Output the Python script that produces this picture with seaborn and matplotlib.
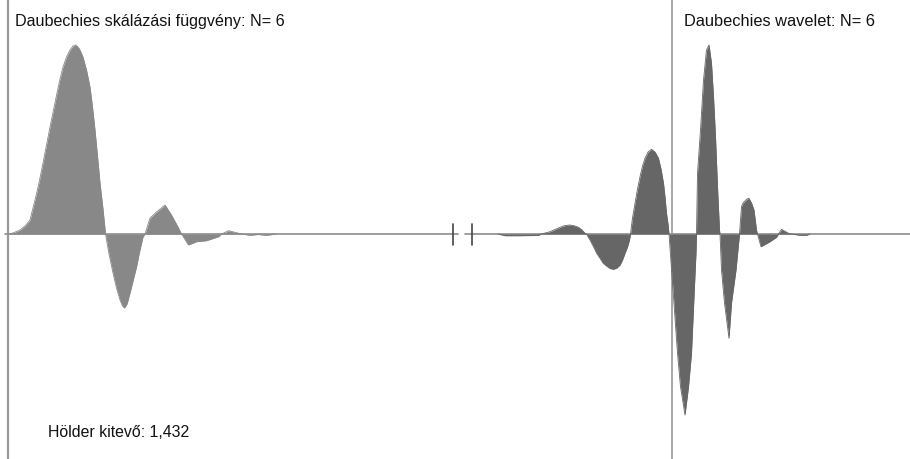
import numpy as np
import pandas as pd
import matplotlib
matplotlib.use("Agg")
import matplotlib.pyplot as plt
import seaborn as sns

# values (x in arbitrary units, y = function value)
phi_t = [0.0, 0.1, 0.24, 0.34, 0.44, 0.5, 0.574, 0.64, 0.70, 0.77, 0.84, 0.91, 0.98, 1.04,
         1.10, 1.17, 1.24, 1.30, 1.36, 1.43, 1.50, 1.57, 1.64, 1.69, 1.74, 1.79, 1.84, 1.90,
         1.95, 2.02, 2.10, 2.17, 2.24, 2.29, 2.33, 2.38, 2.44, 2.50, 2.57, 2.63, 2.70, 2.74,
         2.84, 2.97, 3.14, 3.27, 3.40, 3.47,
         3.61, 3.77, 3.97, 4.21, 4.27, 4.41, 4.57, 4.67, 4.84, 5.0, 5.17, 5.37]
phi_v = [0.0, 0.01, 0.04, 0.08, 0.14, 0.26, 0.41, 0.56, 0.71, 0.89, 1.07, 1.24, 1.41, 1.55,
         1.67, 1.77, 1.84, 1.88, 1.89, 1.85, 1.77, 1.64, 1.47, 1.27, 1.04, 0.78, 0.51, 0.25,
         0.0, -0.2, -0.39, -0.54, -0.66, -0.72, -0.74, -0.70, -0.59, -0.47, -0.33, -0.18, -0.03, 0.0,
         0.16, 0.22, 0.29, 0.19, 0.07, 0.0,
         -0.11, -0.077, -0.067, -0.027, 0.0, 0.033, 0.013, 0.0, -0.013, -0.005, -0.013, 0.0]

psi_t = [9.80, 9.94, 10.24, 10.60, 10.67, 10.84, 10.94, 11.04, 11.13, 11.23, 11.32, 11.41,
         11.48, 11.54, 11.57,
         11.64, 11.71, 11.77, 11.84, 11.90, 11.97, 12.04, 12.11, 12.18, 12.24, 12.29, 12.34,
         12.39, 12.43, 12.45,
         12.49, 12.54, 12.59, 12.64, 12.69, 12.74, 12.80, 12.87, 12.94, 13.01, 13.06, 13.11,
         13.14, 13.17, 13.20, 13.22,
         13.31, 13.39, 13.45, 13.54, 13.61, 13.67, 13.72, 13.76, 13.77,
         13.79, 13.85, 13.91, 13.97, 14.02, 14.07, 14.11, 14.15, 14.19, 14.23, 14.24,
         14.27, 14.33, 14.42, 14.47, 14.56, 14.63,
         14.67, 14.70, 14.74, 14.78, 14.82, 14.87, 14.92, 14.97, 14.99,
         15.06, 15.24, 15.37, 15.41, 15.47, 15.61, 15.67, 15.84, 15.97, 16.04]
psi_v = [0.0, -0.017, -0.017, -0.015, 0.0, 0.023, 0.045, 0.067, 0.083, 0.09, 0.083, 0.067,
         0.04, 0.007, 0.0,
         -0.06, -0.127, -0.19, -0.243, -0.29, -0.32, -0.345, -0.353, -0.34, -0.31, -0.26, -0.193,
         -0.13, -0.06, 0.0,
         0.16, 0.307, 0.45, 0.573, 0.68, 0.757, 0.82, 0.847, 0.82, 0.757, 0.65, 0.507,
         0.37, 0.207, 0.10, 0.0,
         -0.627, -1.193, -1.527, -1.81, -1.527, -1.193, -0.627, -0.19, 0.0,
         0.607, 1.04, 1.54, 1.84, 1.89, 1.707, 1.373, 0.973, 0.473, 0.04, 0.0,
         -0.36, -0.69, -1.043, -0.69, -0.36, 0.0,
         0.273, 0.31, 0.33, 0.35, 0.357, 0.31, 0.24, 0.04, 0.0,
         -0.127, -0.077, -0.033, 0.0, 0.047, 0.007, 0.0, -0.013, -0.013, 0.0]

left_title = "Daubechies skálázási függvény: N= 6"
right_title = "Daubechies wavelet: N= 6"
holder_text = "Hölder kitevő: 1,432"

phi = pd.DataFrame({"t": phi_t, "v": phi_v})
psi = pd.DataFrame({"t": psi_t, "v": psi_v})

sns.set_style("white")
plt.rcParams['font.family'] = ['Liberation Sans', 'DejaVu Sans']

fig = plt.figure(figsize=(9.1, 4.59), dpi=100)
ax = fig.add_axes([0, 0, 1, 1])
ax.set_xlim(-0.16, 18.04)
ax.set_ylim(-2.25, 2.34)

# horizontal axis with a break
ax.plot([-0.06, 9.0], [0, 0], color="#8c8c8c", lw=1.2, zorder=1)
ax.plot([9.14, 18.04], [0, 0], color="#8c8c8c", lw=1.2, zorder=1)
for bx in (8.89, 9.29):
    ax.plot([bx, bx], [0.10, -0.11], color="#444444", lw=1.2, zorder=3)

# vertical axes
ax.axvline(0.0, color="#999999", lw=1.6, zorder=1)
ax.axvline(13.27, color="#999999", lw=1.2, zorder=1)

ax.fill_between(phi["t"], phi["v"], 0, color="#888888", lw=0, zorder=2)
sns.lineplot(data=phi, x="t", y="v", ax=ax, color="#888888", lw=0.6, sort=False,
             estimator=None, zorder=2)
ax.fill_between(psi["t"], psi["v"], 0, color="#666666", lw=0, zorder=2)
sns.lineplot(data=psi, x="t", y="v", ax=ax, color="#666666", lw=0.6, sort=False,
             estimator=None, zorder=2)
ax.axis("off")

ax.text(0.0165, 0.953, left_title, transform=ax.transAxes, fontsize=11.6,
        va="center", ha="left", color="#111111")
ax.text(0.752, 0.953, right_title, transform=ax.transAxes, fontsize=11.8,
        va="center", ha="left", color="#111111")
ax.text(0.053, 0.057, holder_text, transform=ax.transAxes, fontsize=11.4,
        va="center", ha="left", color="#111111")

fig.savefig("out.png", dpi=100)
